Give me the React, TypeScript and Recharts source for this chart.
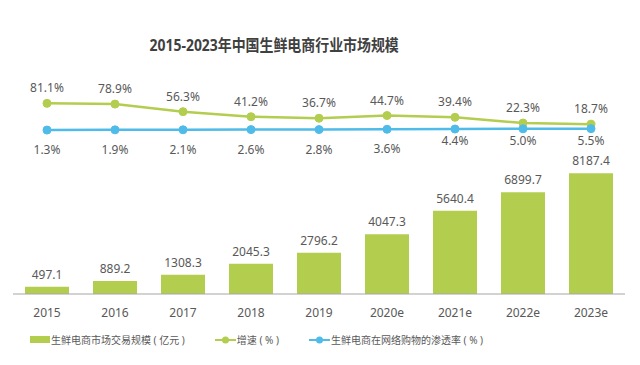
import {
  ComposedChart,
  Bar,
  Line,
  XAxis,
  YAxis,
  Legend,
  LabelList,
} from 'recharts'

const years = ['2015', '2016', '2017', '2018', '2019', '2020e', '2021e', '2022e', '2023e']
const marketSize = [497.1, 889.2, 1308.3, 2045.3, 2796.2, 4047.3, 5640.4, 6899.7, 8187.4]
const growth = [81.1, 78.9, 56.3, 41.2, 36.7, 44.7, 39.4, 22.3, 18.7]
const penetration = [1.3, 1.9, 2.1, 2.6, 2.8, 3.6, 4.4, 5.0, 5.5]

const GREEN = '#b3cd4f'
const BLUE = '#4fbbe9'
const TEXT = '#595959'
const FONT = "'Noto Sans', 'Noto Sans CJK SC', sans-serif"

const data = years.map((year, i) => ({
  year,
  size: marketSize[i],
  growth: growth[i],
  rate: penetration[i],
}))

function LegendContent() {
  const item = { display: 'flex', alignItems: 'center', whiteSpace: 'nowrap' as const }
  const lineIcon = (color: string) => (
    <svg width={21} height={10} style={{ marginRight: 1 }}>
      <line x1={0} y1={5} x2={21} y2={5} stroke={color} strokeWidth={2} />
      <circle cx={10.5} cy={5} r={3.5} fill={color} />
    </svg>
  )
  return (
    <div
      style={{
        display: 'flex',
        gap: 30,
        paddingLeft: 17,
        paddingTop: 8,
        fontSize: 10,
        color: TEXT,
        fontFamily: FONT,
      }}
    >
      <div style={item}>
        <span style={{ width: 20, height: 7, background: GREEN, marginRight: 1, display: 'inline-block' }} />
        生鲜电商市场交易规模 ( 亿元 )
      </div>
      <div style={item}>
        {lineIcon(GREEN)}
        增速 ( % )
      </div>
      <div style={item}>
        {lineIcon(BLUE)}
        生鲜电商在网络购物的渗透率 ( % )
      </div>
    </div>
  )
}

function RateLabel(props: any) {
  const { x, y, value, index } = props
  // the last three labels sit closer to the line in the original
  const dy = index >= 6 ? 16 : 24
  return (
    <text x={x} y={y + dy} textAnchor="middle" fill={TEXT} fontSize={12} fontFamily={FONT}>
      {`${Number(value).toFixed(1)}%`}
    </text>
  )
}

export default function App() {
  return (
    <div style={{ position: 'absolute', left: 0, top: 0, width: 640, height: 365, background: '#fff' }}>
      <div
        style={{
          position: 'absolute',
          left: 0,
          width: 548,
          top: 32,
          textAlign: 'center',
          fontFamily: FONT,
        }}
      >
        <span
          style={{
            display: 'inline-block',
            fontSize: 16,
            fontWeight: 700,
            color: '#404040',
            transform: 'scaleX(0.87)',
            transformOrigin: 'center',
            whiteSpace: 'nowrap',
          }}
        >
          2015-2023年中国生鲜电商行业市场规模
        </span>
      </div>
      <ComposedChart
        width={640}
        height={365}
        data={data}
        margin={{ top: 80, right: 15, left: 13, bottom: 14 }}
        style={{ fontFamily: FONT }}
      >
        <XAxis
          dataKey="year"
          tickLine={false}
          axisLine={{ stroke: '#a6a6a6' }}
          tick={{ fontSize: 12, fill: TEXT }}
          tickMargin={8}
          height={30}
        />
        <YAxis yAxisId="bar" hide domain={[0, 14500]} />
        <YAxis yAxisId="pct" hide domain={[-489, 151]} />
        <Legend verticalAlign="bottom" height={27} content={<LegendContent />} />
        <Bar yAxisId="bar" dataKey="size" fill={GREEN} barSize={44} isAnimationActive={false}>
          <LabelList dataKey="size" position="top" offset={8} fill={TEXT} fontSize={12} formatter={(v: any) => Number(v).toFixed(1)} />
        </Bar>
        <Line
          yAxisId="pct"
          dataKey="growth"
          stroke={GREEN}
          strokeWidth={2.5}
          dot={{ r: 4, fill: GREEN, stroke: GREEN, strokeWidth: 1 }}
          isAnimationActive={false}
        >
          <LabelList dataKey="growth" position="top" offset={11} fill={TEXT} fontSize={12} formatter={(v: any) => `${Number(v).toFixed(1)}%`} />
        </Line>
        <Line
          yAxisId="pct"
          dataKey="rate"
          stroke={BLUE}
          strokeWidth={2.5}
          dot={{ r: 4, fill: BLUE, stroke: BLUE, strokeWidth: 1 }}
          isAnimationActive={false}
        >
          <LabelList dataKey="rate" content={<RateLabel />} />
        </Line>
      </ComposedChart>
    </div>
  )
}
